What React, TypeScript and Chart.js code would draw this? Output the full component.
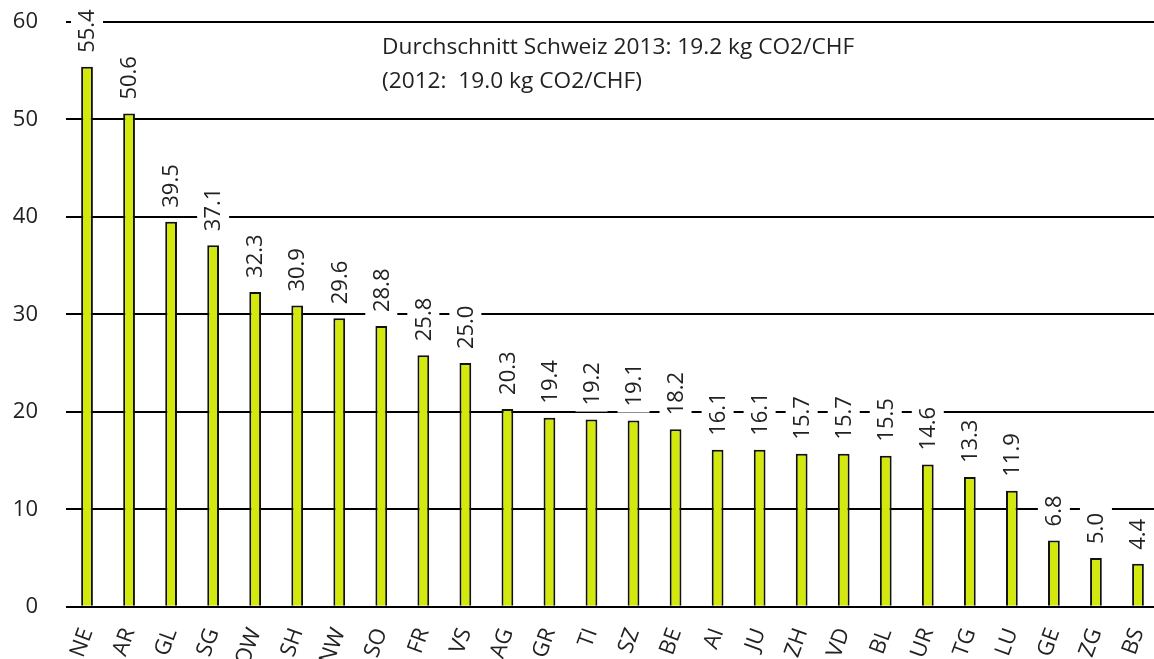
import React, { useEffect, useRef } from "react";
import { Chart, registerables } from "chart.js";

Chart.register(...registerables);

const FONT = '"Open Sans", "Noto Sans", sans-serif';

const categories = ["NE", "AR", "GL", "SG", "OW", "SH", "NW", "SO", "FR", "VS", "AG", "GR", "TI", "SZ", "BE", "AI", "JU", "ZH", "VD", "BL", "UR", "TG", "LU", "GE", "ZG", "BS"];
const values = [55.4, 50.6, 39.5, 37.1, 32.3, 30.9, 29.6, 28.8, 25.8, 25.0, 20.3, 19.4, 19.2, 19.1, 18.2, 16.1, 16.1, 15.7, 15.7, 15.5, 14.6, 13.3, 11.9, 6.8, 5.0, 4.4];
const annotationLines = ["Durchschnitt Schweiz 2013: 19.2 kg CO2/CHF", "(2012:  19.0 kg CO2/CHF)"];
const yMin = 0;
const yMax = 60;
const yStep = 10;

const valueLabels = {
  id: "valueLabels",
  afterDatasetsDraw(chart: any) {
    const ctx = chart.ctx;
    const meta = chart.getDatasetMeta(0);
    ctx.save();
    ctx.font = `22px ${FONT}`;
    meta.data.forEach((bar: any, i: number) => {
      const txt = values[i].toFixed(1);
      const w = ctx.measureText(txt).width;
      const x = bar.x;
      const top = bar.y;
      ctx.fillStyle = "#ffffff";
      ctx.fillRect(x - 16, top - 20 - w, 32, w + 12);
      ctx.save();
      ctx.translate(x + 1, top - 14);
      ctx.rotate(-Math.PI / 2);
      ctx.fillStyle = "#222222";
      ctx.textAlign = "left";
      ctx.textBaseline = "middle";
      ctx.fillText(txt, 0, 0);
      ctx.restore();
    });
    ctx.restore();
  },
};

const annotation = {
  id: "annotation",
  afterDraw(chart: any) {
    const ctx = chart.ctx;
    ctx.save();
    ctx.font = `22.7px ${FONT}`;
    ctx.fillStyle = "#222222";
    ctx.textAlign = "left";
    ctx.textBaseline = "alphabetic";
    ctx.fillText(annotationLines[0], 382, 54);
    ctx.fillText(annotationLines[1], 382, 88);
    ctx.restore();
  },
};

export default function App() {
  const ref = useRef<HTMLCanvasElement | null>(null);

  useEffect(() => {
    if (!ref.current) return;
    const chart = new Chart(ref.current, {
      type: "bar",
      data: {
        labels: categories,
        datasets: [
          {
            data: values,
            backgroundColor: "#d3e80b",
            borderColor: "#111111",
            borderWidth: 2,
            categoryPercentage: 1,
            barPercentage: 0.28,
          },
        ],
      },
      options: {
        responsive: false,
        animation: false,
        layout: { padding: { top: 22, left: 0, right: 0, bottom: 0 } },
        plugins: { legend: { display: false }, tooltip: { enabled: false } },
        scales: {
          x: {
            grid: { display: false },
            border: { display: false },
            ticks: {
              autoSkip: false,
              minRotation: 70,
              maxRotation: 70,
              padding: 10,
              color: "#222222",
              font: { family: FONT, size: 22 },
            },
            afterFit(scale: any) {
              scale.height = 52.3;
              scale.paddingLeft = 0;
              scale.paddingRight = 0;
            },
          },
          y: {
            min: yMin,
            max: yMax,
            grid: { color: "#000000", lineWidth: 2, drawTicks: false, tickLength: 0 },
            border: { display: false },
            ticks: {
              stepSize: yStep,
              padding: 28,
              color: "#222222",
              font: { family: FONT, size: 22 },
            },
            afterFit(scale: any) {
              scale.width = 66;
              scale.paddingTop = 10;
              scale.paddingBottom = 10;
            },
          },
        },
      },
      plugins: [valueLabels, annotation],
    });
    return () => chart.destroy();
  }, []);

  return (
    <div style={{ position: "absolute", left: 0, top: 0, width: 1154, height: 659, overflow: "hidden", background: "#fff" }}>
      <canvas ref={ref} width={1159} height={659} style={{ display: "block" }} />
    </div>
  );
}
